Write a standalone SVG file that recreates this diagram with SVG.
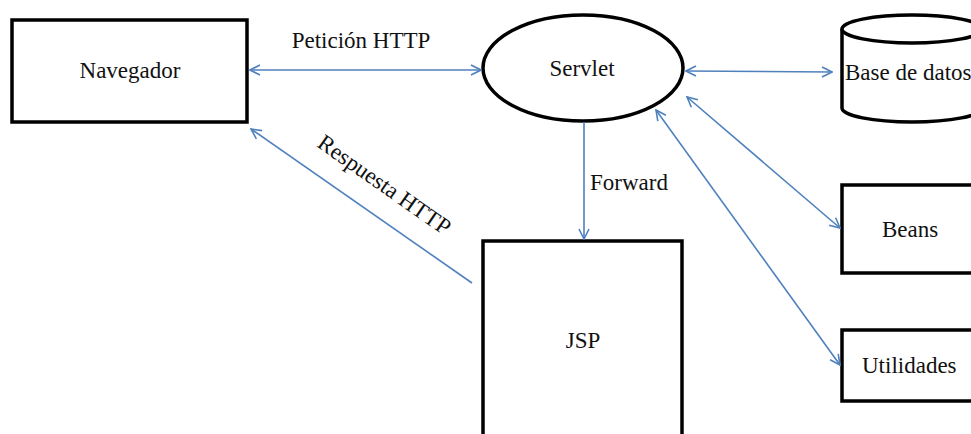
<svg xmlns="http://www.w3.org/2000/svg" width="971" height="434" viewBox="0 0 971 434">
<defs>
<marker id="ah" viewBox="0 0 12 12" refX="11" refY="6" markerWidth="12" markerHeight="12" markerUnits="userSpaceOnUse" orient="auto-start-reverse">
<path d="M1,1 L11,6 L1,11" fill="none" stroke="#4f81bd" stroke-width="1.6"/>
</marker>
<style>
.box{fill:#fff;stroke:#000;stroke-width:3.5}
.lbl{font-family:"Liberation Serif","Times New Roman",serif;font-size:23px;fill:#111}
.c{text-anchor:middle}
.conn{fill:none;stroke:#4f81bd;stroke-width:1.6}
</style>
</defs>
<rect width="971" height="434" fill="#fff"/>
<g id="navegador">
<rect class="box" x="12" y="20" width="235" height="102"/>
<text class="lbl c" x="130" y="78">Navegador</text>
</g>
<g id="servlet">
<ellipse class="box" cx="583" cy="68" rx="100" ry="53"/>
<text class="lbl c" x="582" y="76">Servlet</text>
</g>
<g id="basedatos">
<path class="box" d="M842,29 L842,108 A70,14 0 0 0 982,108 L982,29"/>
<ellipse class="box" cx="912" cy="29" rx="70" ry="14"/>
<text class="lbl" x="845" y="80">Base de datos</text>
</g>
<g id="beans">
<rect class="box" x="842" y="185" width="140" height="88"/>
<text class="lbl" x="882" y="237">Beans</text>
</g>
<g id="utilidades">
<rect class="box" x="842" y="330" width="140" height="71"/>
<text class="lbl" x="862" y="373">Utilidades</text>
</g>
<g id="jsp">
<rect class="box" x="483" y="241" width="199" height="210"/>
<text class="lbl c" x="583" y="348">JSP</text>
</g>
<g id="connectors">
<line class="conn" x1="250" y1="70" x2="481" y2="70" marker-start="url(#ah)" marker-end="url(#ah)"/>
<text class="lbl c" x="361" y="48">Petición HTTP</text>
<line class="conn" x1="686" y1="71" x2="832" y2="72" marker-start="url(#ah)" marker-end="url(#ah)"/>
<line class="conn" x1="584" y1="122" x2="584" y2="239" marker-end="url(#ah)"/>
<text class="lbl" x="590" y="190">Forward</text>
<line class="conn" x1="472" y1="283" x2="251" y2="129" marker-end="url(#ah)"/>
<text class="lbl c" transform="translate(380,191) rotate(35)" x="0" y="0">Respuesta HTTP</text>
<line class="conn" x1="687" y1="97" x2="840" y2="228" marker-start="url(#ah)" marker-end="url(#ah)"/>
<line class="conn" x1="656" y1="110" x2="840" y2="365" marker-start="url(#ah)" marker-end="url(#ah)"/>
</g>
</svg>
